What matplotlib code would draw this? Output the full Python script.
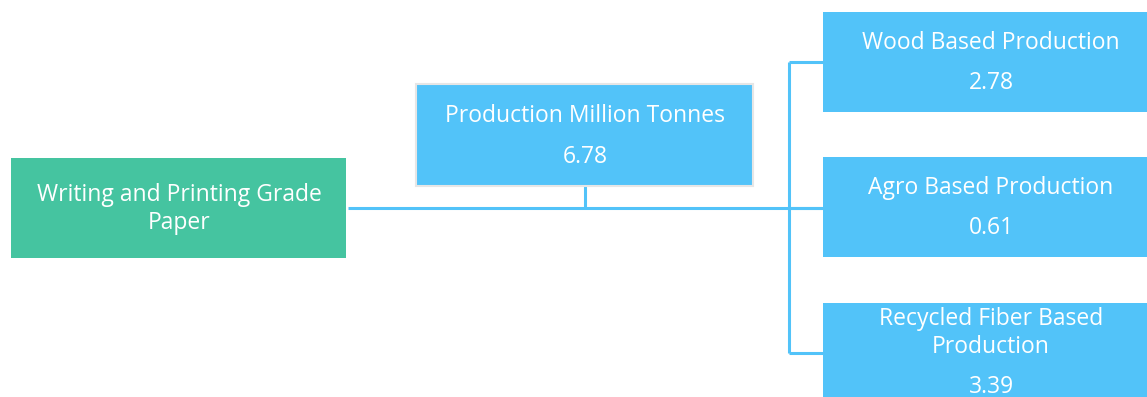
import matplotlib.pyplot as plt
from matplotlib.patches import Rectangle

# node texts and values
root_label = "Writing and Printing Grade\nPaper"
total_label = "Production Million Tonnes"
total_value = 6.78
branch_labels = ["Wood Based Production",
                 "Agro Based Production",
                 "Recycled Fiber Based\nProduction"]
branch_values = [2.78, 0.61, 3.39]

W, H = 1147, 397
GREEN = "#45C4A0"
BLUE = "#52C3F9"
FONT = "Open Sans"
FS = 16.5

fig = plt.figure(figsize=(W / 100, H / 100), dpi=100)
ax = fig.add_axes([0, 0, 1, 1])
ax.set_xlim(0, W)
ax.set_ylim(H, 0)
ax.axis("off")


def box(x, y, w, h, color, edge=None):
    ax.add_patch(Rectangle((x, y), w, h, facecolor=color,
                           edgecolor=edge if edge else color,
                           linewidth=1.5 if edge else 0, zorder=2))


def line(xs, ys):
    ax.plot(xs, ys, color=BLUE, linewidth=2.2, solid_capstyle="butt", zorder=1)


def label(x, y, s, ls=1.2):
    ax.text(x, y, s, ha="center", va="center", color="white",
            fontsize=FS, family=FONT, linespacing=ls, zorder=3)


# root
box(11, 158, 335, 100, GREEN)
label(179, 209, root_label, ls=1.25)

# total production box
box(416, 84, 337, 102, BLUE, edge="#E6E6E6")
label(585, 116, total_label)
label(585, 157, "{:.2f}".format(total_value))

# connectors
line([348, 822], [208, 208])
line([585, 585], [186, 208])
branch_top = [12, 157, 303]
branch_mid = [62, 208, 353]
line([789, 789], [branch_mid[0], branch_mid[-1]])
for ym in branch_mid:
    line([789, 823], [ym, ym])

# branch boxes
for top, lab, val in zip(branch_top, branch_labels, branch_values):
    box(823, top, 336, 100, BLUE)
    if "\n" in lab:
        label(991, top + 30, lab, ls=1.2)
        label(991, top + 84, "{:.2f}".format(val))
    else:
        label(991, top + 31, lab)
        label(991, top + 71, "{:.2f}".format(val))

fig.savefig("out.png", dpi=100)
